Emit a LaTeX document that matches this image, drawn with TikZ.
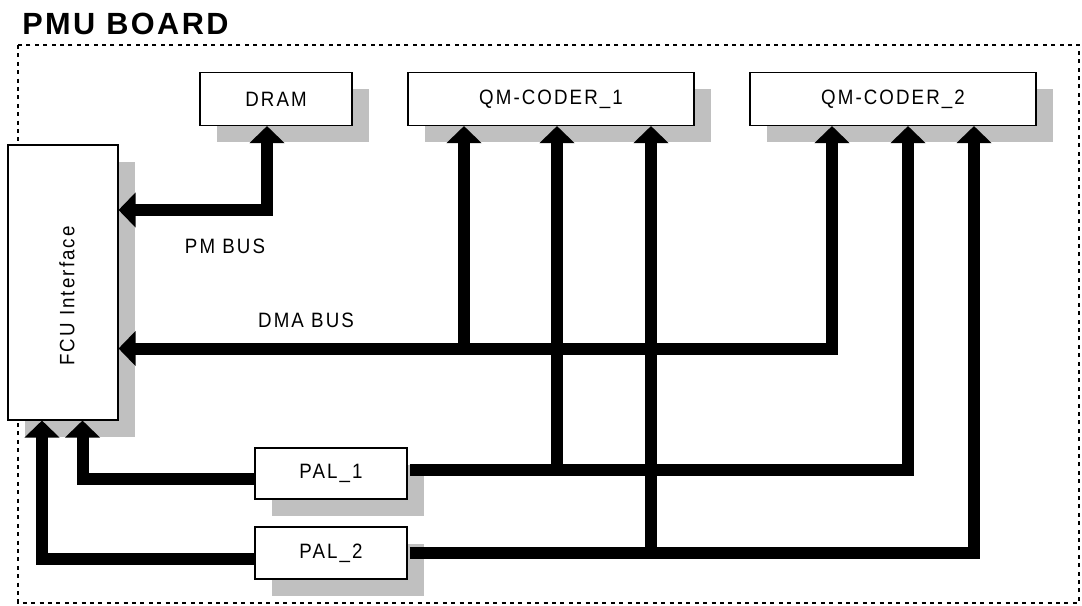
\documentclass[tikz,border=0pt]{standalone}
\usepackage{fontspec}
\setmainfont{Liberation Sans}
\newfontfamily\labelfont[FakeStretch=0.9,LetterSpace=10]{Liberation Sans}
\newfontfamily\titlefont[LetterSpace=8]{Liberation Sans}
\usepackage{tikz}
\usetikzlibrary{arrows.meta,positioning,shadows}
\definecolor{shadowgray}{HTML}{C0C0C0}

\begin{document}
\begin{tikzpicture}[x=0.75pt, y=-0.75pt,
    unit/.style={rectangle, draw=black, line width=0.8pt, fill=white, inner sep=0pt,
        font=\labelfont\fontsize{15.6}{18}\selectfont,
        drop shadow={shadow xshift=12.75pt, shadow yshift=-12.75pt, opacity=1, fill=shadowgray}},
    bus/.style={line width=9pt, line join=miter, draw=black},
    tip/.tip={Triangle[length=12.75pt, width=25.5pt]},
    frame/.style={line width=2pt, dash pattern=on 3pt off 3.3pt},
    buslabel/.style={font=\labelfont\fontsize{15.6}{18}\selectfont}
]
    \useasboundingbox (0,0) rectangle (1082,606);

    % board outline and title
    \draw[frame] (18,45) rectangle (1079,603);
    \node[anchor=base west, inner sep=0pt, font=\titlefont\bfseries\fontsize{23}{26}\selectfont] (title) at (22,35) {PMU BOARD};

    % units on the board
    \node[unit, minimum width=114pt, minimum height=39.75pt] (dram) at (276,99) {DRAM};
    \node[unit, minimum width=214.5pt, minimum height=39.75pt] (qm1) at (551,99) {QM-CODER\_1};
    \node[unit, minimum width=214.5pt, minimum height=39.75pt] (qm2) at (893,99) {QM-CODER\_2};
    \node[unit, minimum width=82.5pt, minimum height=206.25pt] (fcu) at (63,282.5) {};
    \node[buslabel, rotate=90] (fculabel) at (67,296) {FCU Interface};
    \node[unit, minimum width=114pt, minimum height=38.25pt] (pal1) at (331,473.5) {PAL\_1};
    \node[unit, minimum width=114pt, minimum height=39pt] (pal2) at (331,553) {PAL\_2};

    % bend points of the buses
    \coordinate (pm) at (267,210);
    \coordinate (dmaA) at (464,348.5);
    \coordinate (dmaB) at (832,348.5);
    \coordinate (p1m) at (557,469.5);
    \coordinate (p1r) at (908,469.5);
    \coordinate (p2m) at (651,552.5);
    \coordinate (p2r) at (974,552.5);
    \coordinate (p1l) at (82.5,478.5);
    \coordinate (p2l) at (42,558.5);

    % PM bus
    \draw[bus, tip-tip] (fcu.east |- pm) -| (dram.south -| pm);
    \node[buslabel] (pmlabel) at (225,246) {PM BUS};

    % DMA bus
    \draw[bus, tip-tip] (fcu.east |- dmaB) -| (qm2.south -| dmaB);
    \draw[bus, tip-] (qm1.south -| dmaA) -- (dmaA);
    \node[buslabel] (dmalabel) at (306,320) {DMA BUS};

    % PAL lines to the coders
    \draw[bus, -tip] ([xshift=1.5pt]pal1.east |- p1r) -| (qm2.south -| p1r);
    \draw[bus, tip-] (qm1.south -| p1m) -- (p1m);
    \draw[bus, -tip] ([xshift=1.5pt]pal2.east |- p2r) -| (qm2.south -| p2r);
    \draw[bus, tip-] (qm1.south -| p2m) -- (p2m);

    % PAL lines to the FCU
    \draw[bus, -tip] (pal1.west |- p1l) -| (fcu.south -| p1l);
    \draw[bus, -tip] (pal2.west |- p2l) -| (fcu.south -| p2l);
\end{tikzpicture}
\end{document}
